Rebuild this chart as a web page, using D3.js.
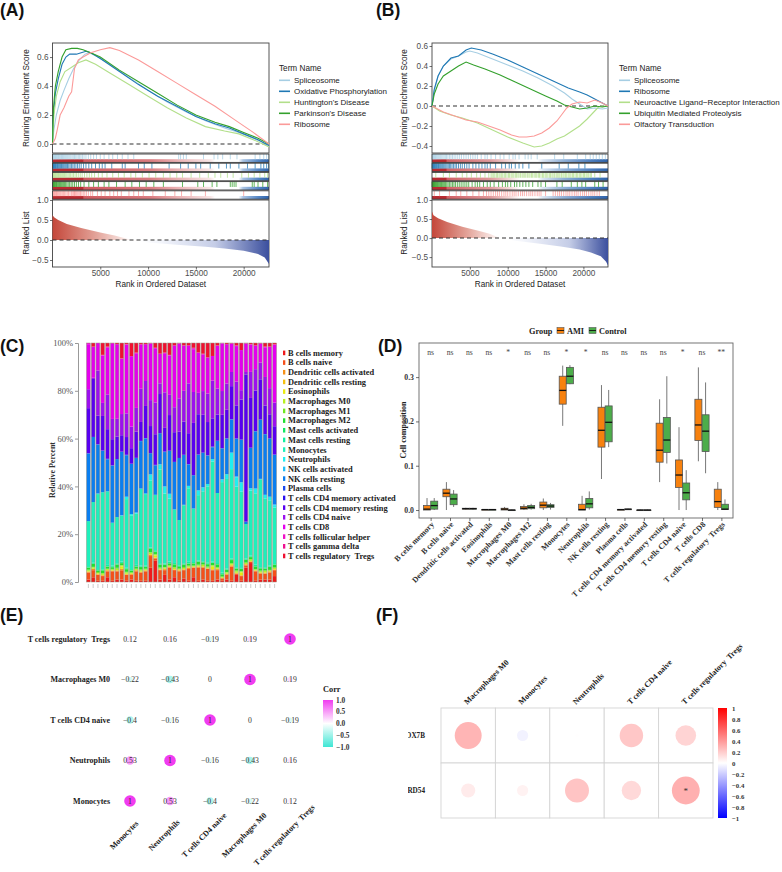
<!DOCTYPE html>
<html>
<head>
<meta charset="utf-8">
<script src="https://cdn.jsdelivr.net/npm/d3@7"></script>
<style>
  body { margin: 0; background: #fff; }
  svg text { white-space: pre; }
</style>
</head>
<body>
<svg id="fig" width="782" height="872"></svg>
<script>
// ---------- data: GSEA (A, B) ----------
var termsA = ['Spliceosome', 'Oxidative Phosphorylation', "Huntington's Disease", "Parkinson's Disease", 'Ribosome'];
var termsB = ['Spliceosome', 'Ribosome', 'Neuroactive Ligand\u2212Receptor Interaction', 'Ubiquitin Mediated Proteolysis', 'Olfactory Transduction'];
var colorsA = ['#a6cee3', '#1f78b4', '#b2df8a', '#33a02c', '#fb9a99'];
var colorsB = ['#a6cee3', '#1f78b4', '#b2df8a', '#33a02c', '#fb9a99'];

// running enrichment score, [rank, ES]
var esSpliceA = [[0,0],[150,0.1],[400,0.2],[800,0.3],[1200,0.37],[1700,0.45],[2200,0.52],[2800,0.58],[3400,0.62],[3800,0.63],[4500,0.61],[6000,0.55],[8000,0.46],[10000,0.37],[12000,0.29],[14000,0.22],[16000,0.16],[18000,0.11],[19500,0.08],[21000,0.04],[22000,0.01],[22650,-0.02]];
var esOxphosA = [[0,0],[100,0.2],[300,0.35],[600,0.45],[1000,0.55],[1400,0.6],[1800,0.62],[2500,0.62],[3000,0.63],[3500,0.64],[4000,0.63],[5000,0.59],[7000,0.5],[9000,0.41],[11000,0.33],[13000,0.26],[15000,0.19],[17000,0.14],[18500,0.11],[20000,0.07],[21500,0.03],[22650,-0.01]];
var esHuntA = [[0,0],[150,0.2],[400,0.33],[800,0.43],[1300,0.5],[2000,0.53],[2700,0.56],[3500,0.58],[4500,0.55],[6000,0.49],[8000,0.41],[10000,0.33],[12000,0.25],[14000,0.18],[16000,0.12],[18000,0.09],[19500,0.07],[21000,0.03],[22000,0.0],[22650,-0.02]];
var esParkA = [[0,0],[100,0.25],[300,0.4],[600,0.5],[1000,0.6],[1400,0.65],[2000,0.66],[2600,0.66],[3200,0.65],[4000,0.63],[5000,0.6],[7000,0.51],[9000,0.43],[11000,0.35],[13000,0.27],[15000,0.2],[17000,0.15],[18500,0.12],[20000,0.08],[21500,0.04],[22650,0.0]];
var esRiboA = [[0,0],[300,0.04],[500,0.1],[800,0.2],[1200,0.25],[1700,0.33],[2000,0.36],[2300,0.52],[2700,0.58],[3200,0.6],[4000,0.63],[5000,0.65],[6000,0.665],[7000,0.645],[9000,0.58],[11000,0.5],[13000,0.42],[15000,0.34],[17000,0.26],[19000,0.17],[21000,0.08],[22650,0.0]];

var esSpliceB = [[0,0],[300,0.15],[800,0.3],[1500,0.4],[2500,0.47],[3500,0.5],[4500,0.54],[5000,0.55],[6000,0.53],[8000,0.47],[10000,0.41],[12000,0.35],[14000,0.28],[16000,0.2],[17500,0.13],[18500,0.07],[19500,0.02],[20500,-0.03],[21500,-0.02],[22500,-0.03],[23250,-0.02]];
var esRiboB = [[0,0],[300,0.17],[800,0.3],[1500,0.4],[2500,0.48],[3500,0.5],[4500,0.56],[5200,0.58],[6500,0.56],[8000,0.52],[10000,0.46],[12000,0.39],[14000,0.32],[16000,0.25],[18000,0.18],[19500,0.14],[20500,0.11],[21500,0.07],[22500,0.03],[23250,0.0]];
var esNeuroB = [[0,0],[1000,-0.05],[2500,-0.09],[4000,-0.12],[6000,-0.17],[8000,-0.24],[10000,-0.31],[12000,-0.37],[13500,-0.41],[14500,-0.4],[15500,-0.37],[16500,-0.33],[17500,-0.3],[18500,-0.25],[19500,-0.2],[20500,-0.13],[21500,-0.05],[22000,-0.01],[22500,0.0],[23250,0.0]];
var esUbiqB = [[0,0],[300,0.12],[800,0.22],[1500,0.3],[2500,0.35],[3500,0.4],[4500,0.44],[5500,0.41],[7000,0.37],[9000,0.31],[11000,0.24],[13000,0.17],[15000,0.1],[16500,0.05],[17500,0.01],[18500,-0.01],[19500,-0.03],[20500,-0.02],[21500,0.0],[22500,-0.01],[23250,0.0]];
var esOlfB = [[0,0],[1500,-0.06],[3000,-0.1],[4500,-0.14],[6000,-0.16],[7500,-0.2],[9000,-0.24],[10500,-0.29],[11500,-0.31],[12500,-0.31],[13500,-0.3],[14500,-0.27],[15500,-0.22],[16500,-0.15],[17200,-0.08],[17800,-0.02],[18500,0.02],[19500,0.04],[20500,0.03],[21500,0.06],[22500,0.03],[23250,0.0]];

// gene-set hit ranks, in hundreds
var hitSpliceA = [0.3,0.8,1.3,1.9,2.6,3.2,4,4.7,5.5,6.2,7,7.8,8.7,9.5,10.4,11.3,12.2,13.1,14,15,16,17.1,18.2,19.3,20.5,21.7,23,24.3,25.6,27,28.4,29.8,31.3,33,35,37.5,40,43,46,50,54,59,63,68,73,79,85,132,134,137,140,158,169,173,178,186,193,212,217,221,224,226];
var hitOxphosA = [0.2,0.6,1,1.5,2,2.6,3.2,3.9,4.6,5.3,6,6.8,7.6,8.5,9.4,10.3,11.3,12.3,13.4,14.5,15.7,17,18.4,19.8,21.3,22.8,24.5,26.2,28,30,32.5,35,38,41,45,49,52,55,62,73,76,90,96,104,122,134,142,150,155,165,174,182,186,195,204,212,218,221,224,226];
var hitHuntA = [0.4,1,1.6,2.3,3,3.8,4.6,5.4,6.3,7.2,8.2,9.2,10.3,11.4,12.6,13.8,15,16.3,17.6,19,20.5,22,23.6,25.2,27,29,31,33.5,36,38.5,41,44,48,52,57,63,69,75,82,87,94,101,108,116,123,130,136,145,154,163,170,176,183,189,198,205,211,217,222,225];
var hitParkA = [0.2,0.5,0.9,1.3,1.8,2.3,2.9,3.5,4.2,4.9,5.7,6.5,7.4,8.3,9.3,10.3,11.4,12.5,13.7,15,16.4,17.9,19.5,21.2,23,25,27.2,29.5,33,38,43,48,54,59,67,76,83,91,98,106,116,136,152,158,167,172,186,188,190,192,209,211,215,220,225];
var hitRiboA = [0.6,1.2,1.9,2.6,3.4,4.2,5.1,6,7,8,9,10.2,11.4,12.7,14,15.4,16.8,18.3,19.8,21.2,22.2,23,23.8,24.7,25.7,26.8,28,29.3,30.7,32.2,33.8,35.5,37.5,40,42,47,51,55,60,64,68,72,80,85,90,95,105,118,128,135,145,160,200];

var hitSpliceB = [0.3,1,1.8,2.6,3.5,4.5,5.5,6.6,7.8,9,10.3,11.6,13,14.5,16,17.6,19.2,21,23,25,27,29.2,31.5,34,36.5,39,42,45,48,51,54,57,60,65,70,73,78,84,90,95,102,107,110,115,123,127,131,139,162,174,192,203,209,213,217,221,225,229];
var hitRiboB = [0.2,0.6,1.1,1.6,2.2,2.8,3.5,4.2,5,5.8,6.7,7.6,8.6,9.6,10.7,11.8,13,14.2,15.5,16.9,18.3,19.8,21.4,23,24.7,26.5,28.5,30.5,32.5,35,37.5,40,43,46,49,54,58,62,66,70,73,77,84,92,97,102,105,110,115,120,128,145,168,180,194,202];
var hitNeuroB = [5,15,23,32,40,46,52,59,64,70,75,78,79.5,81.5,83,85,86.5,88.5,90,92,93.5,95.5,97,99,101,102.5,104.5,106,108,110,111.5,113.5,115,117,119,120.5,122.5,124,126,128,129.5,131.5,133,135,137,138.5,140.5,142,144,146,147.5,149.5,151,153,155,156.5,158.5,160,162,164,165.5,167.5,169,171,173,174.5,176.5,178,180,182,183.5,185.5,187,189,191,192.5,194.5,196,198,200,201.5,203.5,205,207,209,210.5,215,222];
var hitUbiqB = [0.2,0.5,0.9,1.3,1.8,2.3,2.9,3.5,4.2,4.9,5.7,6.5,7.4,8.3,9.3,10.3,11.4,12.5,13.7,15,16.4,17.9,19.5,21.2,23,25,27,29,31,33.5,36,38.5,41,43.5,46,48.5,53,57,60,63,68,73,77,82,88,93,97,100,104,109,112,116,120,124,128,133,140,144,150,165,172,184,192,198,203,215,220,226];
var hitOlfB = [3,10,23,32,38,46,54,62,68,72,75,78,81,84,86.5,89,92,95,97.5,100,103,106,108.5,111,114,117,119.5,122,125,128,130.5,133,136,139,141.5,144,150,160,163,166,168.5,171,174,177,179.5,182,185,188,190.5,193,196,199,201.5,204,207,210,212.5,215,218,221];

// ranked list metric, [rank, value]
var rankedA = [[0,0.62],[200,0.56],[600,0.5],[1500,0.4],[3000,0.3],[5000,0.19],[6500,0.11],[7500,0.05],[8200,0.0],[10000,-0.06],[13000,-0.12],[16000,-0.17],[18000,-0.21],[20000,-0.27],[21500,-0.35],[22200,-0.44],[22650,-0.6]];
var rankedB = [[0,0.7],[200,0.6],[800,0.52],[2000,0.42],[4000,0.3],[6000,0.2],[7500,0.12],[8500,0.04],[9000,0.0],[11000,-0.07],[14000,-0.14],[17000,-0.22],[19500,-0.3],[21000,-0.38],[22300,-0.48],[23000,-0.62],[23250,-0.72]];

var rankTicks = [5000, 10000, 15000, 20000];

// ---------- data: immune cell fractions (C) ----------
var cellTypes = ['B cells memory','B cells naive','Dendritic cells activated','Dendritic cells resting','Eosinophils','Macrophages M0','Macrophages M1','Macrophages M2','Mast cells activated','Mast cells resting','Monocytes','Neutrophils','NK cells activated','NK cells resting','Plasma cells','T cells CD4 memory activated','T cells CD4 memory resting','T cells CD4 naive','T cells CD8','T cells follicular helper','T cells gamma delta','T cells regulatory  Tregs'];
var cellColors = ['#ee1a1a','#f4501a','#f59018','#f5c010','#eaea10','#b8f020','#70e820','#20e030','#10e860','#10f0a0','#1ef0bc','#20eef0','#20c0f8','#0a7ef0','#1848f0','#2a10f0','#5800f0','#9c10ee','#e400ee','#f010c8','#f01090','#f01030'];

var bMem     = [1,2,0.5,0.5,2,0.5,1,1,0.5,1, 0.5,0.5,0.5,6,9,1,3,1,2,0.5, 1.5,0.5,2,0.5,1,0.5,0.5,1,0.5,1, 0.5,3,0.5,6,8,0.5,1,1,1,2.5];
var bNaive   = [3,3,2.5,2,2.5,4,3.5,4,2.5,2, 4,3.5,4,5,1,4,2,5,3,4, 3.5,5,4,5.5,5,5,4.5,4,1,2, 6,0.5,2,1,0.5,4,2.5,2.5,3,2.5];
var dcAct    = [0.3,0.5,0.2,0.3,0.4,0.2,0.3,0.5,0.2,0.3, 0.4,0.2,0.3,0.5,0.3,0.2,0.4,0.3,0.2,0.3, 0.3,0.5,0.2,0.4,0.3,0.2,0.3,0.4,0.2,0.3, 0.5,0.2,0.3,0.4,0.2,0.3,0.3,0.2,0.4,0.3];
var dcRest   = [0.2,0.1,0.3,0.2,0.1,0.2,0.2,0.1,0.3,0.2, 0.1,0.2,0.2,0.3,0.1,0.2,0.2,0.1,0.2,0.3, 0.2,0.1,0.2,0.2,0.3,0.1,0.2,0.2,0.1,0.2, 0.3,0.2,0.1,0.2,0.2,0.1,0.2,0.3,0.2,0.1];
var eos      = [0,0,0,0,0,0,0,1,0,0, 0,0,0,0,0.8,0,0,0,0,0, 0,0,0,0,0,0,1,0,0,0, 0,0,1.2,0,0,0,0,0,0,0];
var m0       = [0.4,0.6,0.3,0.5,0.4,0.3,0.6,0.4,0.5,0.3, 0.4,0.5,0.3,0.6,0.4,0.3,0.5,0.4,0.6,0.3, 0.4,0.5,0.3,0.4,0.6,0.3,0.5,0.4,0.3,0.5, 0.4,0.6,0.3,0.4,0.5,0.3,0.4,0.6,0.3,0.5];
var m1       = [0.3,0.2,0.4,0.3,0.2,0.3,0.4,0.2,0.3,0.3, 0.2,0.4,0.3,0.2,0.3,0.4,0.2,0.3,0.3,0.2, 0.4,0.3,0.2,0.3,0.3,0.4,0.2,0.3,0.3,0.2, 0.3,0.4,0.2,0.3,0.3,0.2,0.4,0.3,0.2,0.3];
var m2       = [0.8,1.2,0.6,1,0.9,0.7,1.3,0.8,1.1,0.6, 0.9,1,0.7,1.4,0.8,1.2,0.9,0.7,1.1,0.8, 1,0.8,0.9,1.2,0.7,1,0.9,1.1,0.8,0.9, 1.3,0.7,0.9,1,0.8,1.1,0.9,0.7,1.2,1];
var mastAct  = [0.2,0.1,0.2,0.3,0.1,0.2,0.2,0.1,0.3,0.2, 0.1,0.2,0.2,0.3,0.2,0.1,0.2,0.2,0.1,0.3, 0.2,0.2,0.1,0.2,0.3,0.2,0.1,0.2,0.2,0.1, 0.3,0.2,0.2,0.1,0.2,0.2,0.3,0.1,0.2,0.2];
var mastRest = [0.5,0.6,0.4,0.3,0.6,0.5,0.4,0.6,0.3,0.5, 0.6,0.4,0.5,0.3,0.6,0.5,0.4,0.6,0.5,0.3, 0.4,0.6,0.5,0.4,0.3,0.6,0.5,0.4,0.6,0.5, 0.3,0.4,0.6,0.5,0.4,0.6,0.3,0.5,0.4,0.6];
var mono     = [19,25.5,31.5,32.5,31,18,19.5,19.5,29,22.5, 21.5,32.5,30,28.5,23.5,39.5,29.5,26.5,22.5,19, 24.5,31,22.5,27.5,29.5,32,42.5,29.5,38,37.5, 38,34,32,14.5,27.5,30,37,29,27.5,23.5];
var neut     = [0,0,0,0,0,0,0,0,1,0.5, 0.5,0,0,2.5,0,2,3,2,0,0, 0,1,0,2,1.5,1,1,0,1,2, 7,4,4,0,1,2,0,1.5,1.5,1];
var nkAct    = [0,0,0.3,0,0,0,0,0.2,0,0, 0,0,0.4,0,0,0.3,0,0,0,0, 0.2,0,0,0,0.3,0,0,0,0.2,0, 0,0.3,0,0,0,0,0.2,0,0,0.3];
var nkRest   = [28.5,27.5,20.5,17.5,13.5,24,24.5,27,17.5,21, 23,20,23,9,12.5,13,14.5,18,20,26, 21,9,14,15,14.5,12,5,22,13,15, 14,16,18,1,17,24,25,25.5,24.5,21];
var plasma   = [0.2,0,0.1,0,0.2,0.1,0,0,0.2,0.1, 0,0.1,0.2,0,0.1,0,0.2,0.1,0,0, 0.1,0.2,0,0.1,0,0.1,0.2,0,0.1,0, 0.2,0,0.1,0,0.1,0.2,0,0.1,0,0.1];
var cd4Act   = [0,0,0,0.2,0,0,0,0,0,0, 0,0,0,0,0.1,0,0,0,0,0, 0,0,0,0,0,0,0.1,0,0,0, 0,0,0,0,0,0,0,0,0.2,0];
var cd4Rest  = [19,24.5,12,14.5,12.5,11,9.5,7,7.5,6.5, 11,8,13.5,11.5,13,16.5,10,15,12.5,11, 14,13,22,17,16,14,12,11,14,12, 14,14,17,62,21,17,17,12,10,12];
var cd4Naive = [8,0.5,19,5.5,14.5,8.5,7.5,9,10,9, 10,14,10.5,11,13.5,4.5,15,8.5,10.5,14, 13,21,13,9,10,12,16,11,10,11, 6,10,4,1,11,9,7,12,11,10];
var cd8      = [19,13,11.5,20,20,31.5,31.5,23.5,29,29.5, 23,18.5,15.5,24,23,12.5,16.5,16.5,26,23, 19,16,18,17,15.5,15,10.5,18,20,16.5, 12,15,17,12,11.5,10,8,12.5,17.5,24.5];
var tfh      = [0.5,0,0,0.3,0,0.4,0,0,0.2,0, 0,0.3,0,0,0.2,0,0,0.3,0,0, 0.2,0,0.4,0,0,0.3,0,0,0.2,0, 0,0.3,0,0,0.2,0,0,0.3,0,0];
var tgd      = [0,0.2,0,0,0.3,0,0,0.2,0,0, 0.3,0,0,0.2,0,0,0.3,0,0,0.2, 0,0,0.2,0,0.3,0,0,0.2,0,0, 0.3,0,0,0.2,0,0,0.3,0,0,0.2];
var treg     = [0,1.5,0,5,1.5,0,0.5,6.5,0.5,5.5, 4,0.5,0.5,0,2,4.5,4,5,1,0, 1,1,2,4,4.5,6,5.5,1,0,0.5, 0,1,3,0,0.5,1,0,1.5,1.5,0.5];
var cellSeries = [bMem,bNaive,dcAct,dcRest,eos,m0,m1,m2,mastAct,mastRest,mono,neut,nkAct,nkRest,plasma,cd4Act,cd4Rest,cd4Naive,cd8,tfh,tgd,treg];
var percentTicks = [0, 0.2, 0.4, 0.6, 0.8, 1];

// ---------- data: box plots (D) ----------
var boxCells = ['B cells memory','B cells naive','Dendritic cells activated','Eosinophils','Macrophages M0','Macrophages M2','Mast cells resting','Monocytes','Neutrophils','NK cells resting','Plasma cells','T cells CD4 memory activated','T cells CD4 memory resting','T cells CD4 naive','T cells CD8','T cells regulatory  Tregs'];
var groups = ['AMI', 'Control'];
var groupColors = ['#f7810e', '#4cad4a'];
// [lower whisker, q1, median, q3, upper whisker]
var amiStats = [[0,0,0.002,0.01,0.027],[0,0.03,0.038,0.047,0.063],[0.001,0.002,0.003,0.004,0.005],[0,0,0.001,0.001,0.002],[0,0,0.002,0.004,0.007],[0,0.002,0.004,0.008,0.013],[0,0.005,0.011,0.018,0.026],[0.19,0.239,0.27,0.302,0.326],[0,0,0.001,0.013,0.032],[0.07,0.142,0.18,0.232,0.282],[0,0,0.001,0.001,0.002],[0,0,0,0,0.001],[0.063,0.108,0.135,0.196,0.25],[0,0.051,0.079,0.113,0.187],[0.11,0.157,0.192,0.25,0.322],[0,0.006,0.019,0.047,0.063]];
var controlStats = [[0,0.002,0.01,0.02,0.027],[0.007,0.012,0.025,0.036,0.045],[0.001,0.002,0.003,0.004,0.005],[0,0,0.001,0.001,0.001],[0,0,0,0,0.001],[0.001,0.003,0.006,0.01,0.014],[0.001,0.006,0.009,0.012,0.016],[0.284,0.285,0.302,0.322,0.327],[0.001,0.005,0.014,0.026,0.042],[0.142,0.154,0.198,0.235,0.271],[0.001,0.001,0.002,0.002,0.003],[0,0,0,0,0.001],[0.105,0.13,0.158,0.209,0.302],[0,0.023,0.039,0.061,0.09],[0.083,0.132,0.178,0.215,0.288],[0,0.001,0.002,0.013,0.024]];
var sigLabels = ['ns','ns','ns','ns','*','ns','ns','*','*','ns','ns','ns','ns','*','ns','**'];
var compTicks = [0, 0.1, 0.2, 0.3];

// ---------- data: correlation among cells (E) ----------
var corrCells = ['Monocytes','Neutrophils','T cells CD4 naive','Macrophages M0','T cells regulatory  Tregs'];
var corrMatrix = [
  [1, 0.53, -0.4, -0.22, 0.12],
  [0.53, 1, -0.16, -0.43, 0.16],
  [-0.4, -0.16, 1, 0, -0.19],
  [-0.22, -0.43, 0, 1, 0.19],
  [0.12, 0.16, -0.19, 0.19, 1]
];
var corrTicks = [1, 0.5, 0, -0.5, -1];

// ---------- data: gene vs cell correlation (F) ----------
var geneNames = ['COX7B', 'TRD54'];
var geneCells = ['Macrophages M0','Monocytes','Neutrophils','T cells CD4 naive','T cells regulatory  Tregs'];
var geneCorr = [
  [0.29, -0.05, 0.004, 0.22, 0.17],
  [0.08, 0.05, 0.23, 0.15, 0.31]
];
var geneStars = [['','','','',''], ['','','','','*']];
var geneTicks = [1, 0.8, 0.6, 0.4, 0.2, 0, -0.2, -0.4, -0.6, -0.8, -1];

// ---------- setup ----------
var SANS = 'Liberation Sans, Arial, sans-serif';
var SERIF = 'Liberation Serif, Times New Roman, serif';
var svg = d3.select('#fig');
var defs = svg.append('defs');
svg.append('rect').attr('width', 782).attr('height', 872).attr('fill', '#fff');

function addGradient(id, stops, x1, x2, y1, y2, userSpace) {
  var grad = defs.append('linearGradient').attr('id', id)
    .attr('x1', x1).attr('x2', x2).attr('y1', y1).attr('y2', y2);
  if (userSpace) grad.attr('gradientUnits', 'userSpaceOnUse');
  stops.forEach(function (s) {
    grad.append('stop').attr('offset', s[0]).attr('stop-color', s[1]);
  });
}

function styleAxis(sel, font, size, color, weight) {
  sel.select('.domain').remove();
  sel.selectAll('.tick line').attr('stroke', '#333').attr('stroke-width', 0.7);
  sel.selectAll('.tick text')
    .attr('font-family', font).attr('font-size', size)
    .attr('fill', color).attr('font-weight', weight || 'normal');
}

var minusFmt = function (v) { return (v < 0 ? '\u2212' : '') + Math.abs(v); };

// panel labels
[['(A)', 0, 16], ['(B)', 376, 16], ['(C)', 0, 352], ['(D)', 378, 352], ['(E)', 0, 621], ['(F)', 376, 621]]
  .forEach(function (p) {
    svg.append('text').attr('x', p[1]).attr('y', p[2]).text(p[0])
      .attr('font-family', SANS).attr('font-weight', 'bold').attr('font-size', 17.5).attr('fill', '#111');
  });

// ---------- GSEA panels ----------
function drawGsea(cfg) {
  var g = svg.append('g');
  var x = d3.scaleLinear().domain([0, cfg.maxRank]).range([cfg.left, cfg.right]);
  var yEs = d3.scaleLinear().domain(cfg.esDomain).range([153, 43]);
  var yRl = d3.scaleLinear().domain(cfg.rlDomain).range([267, 200]);
  var w = cfg.right - cfg.left;

  addGradient(cfg.id + 'rug', cfg.rugStops, cfg.left, cfg.right, 0, 0, true);
  addGradient(cfg.id + 'rl', cfg.rlStops, cfg.left, cfg.right, 0, 0, true);

  // running score
  g.append('rect').attr('x', cfg.left).attr('y', 43).attr('width', w).attr('height', 110)
    .attr('fill', '#fff').attr('stroke', '#444').attr('stroke-width', 0.9);
  g.append('line').attr('x1', cfg.left).attr('x2', cfg.right)
    .attr('y1', yEs(0)).attr('y2', yEs(0))
    .attr('stroke', '#333').attr('stroke-width', 1.1).attr('stroke-dasharray', '4,3');
  var line = d3.line().x(function (d) { return x(d[0]); }).y(function (d) { return yEs(d[1]); });
  cfg.curves.forEach(function (c, i) {
    g.append('path').datum(c).attr('d', line).attr('fill', 'none')
      .attr('stroke', cfg.colors[i]).attr('stroke-width', 1.1);
  });
  var ay = g.append('g').attr('transform', 'translate(' + cfg.left + ',0)')
    .call(d3.axisLeft(yEs).tickValues(cfg.esTicks).tickFormat(d3.format('.1f')).tickSize(2.5).tickPadding(1.5));
  styleAxis(ay, SANS, 8.2, '#4d4d4d');

  // hit strips
  cfg.hits.forEach(function (h, i) {
    var y0 = 154 + i * 9.2, hh = 8.4;
    g.append('rect').attr('x', cfg.left).attr('y', y0).attr('width', w).attr('height', hh).attr('fill', '#fff');
    g.append('rect').attr('x', cfg.left).attr('y', y0 + hh * 0.62).attr('width', w).attr('height', hh * 0.38)
      .attr('fill', 'url(#' + cfg.id + 'rug)');
    g.selectAll(null).data(h).enter().append('line')
      .attr('x1', function (d) { return x(d * 100); }).attr('x2', function (d) { return x(d * 100); })
      .attr('y1', y0).attr('y2', y0 + hh * 0.64)
      .attr('stroke', cfg.colors[i]).attr('stroke-width', 0.9).attr('stroke-opacity', 0.85);
    g.append('rect').attr('x', cfg.left).attr('y', y0).attr('width', w).attr('height', hh)
      .attr('fill', 'none').attr('stroke', '#3a3a3a').attr('stroke-width', 0.9);
  });

  // ranked list
  g.append('rect').attr('x', cfg.left).attr('y', 200).attr('width', w).attr('height', 67)
    .attr('fill', '#fff').attr('stroke', '#444').attr('stroke-width', 0.9);
  var area = d3.area().x(function (d) { return x(d[0]); })
    .y0(yRl(0)).y1(function (d) { return yRl(d[1]); });
  g.append('path').datum(cfg.ranked).attr('d', area).attr('fill', 'url(#' + cfg.id + 'rl)');
  g.append('line').attr('x1', cfg.left).attr('x2', cfg.right)
    .attr('y1', yRl(0)).attr('y2', yRl(0))
    .attr('stroke', '#333').attr('stroke-width', 1.1).attr('stroke-dasharray', '4,3');
  var ay2 = g.append('g').attr('transform', 'translate(' + cfg.left + ',0)')
    .call(d3.axisLeft(yRl).tickValues([-0.5, 0, 0.5, 1]).tickFormat(d3.format('.1f')).tickSize(2.5).tickPadding(1.5));
  styleAxis(ay2, SANS, 8.2, '#4d4d4d');
  var ax = g.append('g').attr('transform', 'translate(0,267)')
    .call(d3.axisBottom(x).tickValues(rankTicks).tickFormat(d3.format('d')).tickSize(2.5).tickPadding(1));
  styleAxis(ax, SANS, 8.2, '#4d4d4d');

  // titles
  g.append('text').attr('x', (cfg.left + cfg.right) / 2).attr('y', 287).attr('text-anchor', 'middle')
    .attr('font-family', SANS).attr('font-size', 8.2).attr('fill', '#222').text('Rank in Ordered Dataset');
  g.append('text').attr('transform', 'translate(' + cfg.titleX + ',98) rotate(-90)').attr('text-anchor', 'middle')
    .attr('font-family', SANS).attr('font-size', 8.2).attr('fill', '#222').text('Running Enrichment Score');
  g.append('text').attr('transform', 'translate(' + cfg.titleX + ',233) rotate(-90)').attr('text-anchor', 'middle')
    .attr('font-family', SANS).attr('font-size', 8.2).attr('fill', '#222').text('Ranked List');

  // legend
  g.append('text').attr('x', cfg.legendX).attr('y', 71).text('Term Name')
    .attr('font-family', SANS).attr('font-size', 8.2).attr('fill', '#222');
  cfg.names.forEach(function (n, i) {
    var yy = 80.3 + i * 11;
    g.append('line').attr('x1', cfg.legendX).attr('x2', cfg.legendX + 11).attr('y1', yy).attr('y2', yy)
      .attr('stroke', cfg.colors[i]).attr('stroke-width', 1.6);
    g.append('text').attr('x', cfg.legendX + 15).attr('y', yy + 2.8).text(n)
      .attr('font-family', SANS).attr('font-size', 8).attr('fill', '#222');
  });
}

drawGsea({
  id: 'ga', left: 52.5, right: 269, maxRank: 22650,
  esDomain: [-0.062, 0.697], esTicks: [0, 0.2, 0.4, 0.6], rlDomain: [-0.675, 1.0],
  curves: [esSpliceA, esOxphosA, esHuntA, esParkA, esRiboA],
  hits: [hitSpliceA, hitOxphosA, hitHuntA, hitParkA, hitRiboA],
  ranked: rankedA, colors: colorsA, names: termsA, legendX: 279, titleX: 29,
  rugStops: [[0, '#b82a30'], [0.14, '#b82a30'], [0.145, '#cf5a5f'], [0.45, '#d97c80'], [0.58, '#eab2b4'], [0.73, '#f8e6e6'], [0.75, '#ffffff'], [0.86, '#ffffff'], [0.88, '#a9c3e3'], [0.95, '#5486c4'], [1, '#2f63aa']],
  rlStops: [[0, '#c4473a'], [0.2, '#e3a399'], [0.36, '#fdf4f2'], [0.4, '#ffffff'], [0.5, '#f3f5fb'], [0.75, '#c5cde7'], [1, '#3b4f9e']]
});

drawGsea({
  id: 'gb', left: 432, right: 608, maxRank: 23250,
  esDomain: [-0.47, 0.63], esTicks: [-0.4, -0.2, 0, 0.2, 0.4, 0.6], rlDomain: [-0.76, 1.0],
  curves: [esSpliceB, esRiboB, esNeuroB, esUbiqB, esOlfB],
  hits: [hitSpliceB, hitRiboB, hitNeuroB, hitUbiqB, hitOlfB],
  ranked: rankedB, colors: colorsB, names: termsB, legendX: 619, titleX: 407,
  rugStops: [[0, '#b82a30'], [0.08, '#b82a30'], [0.085, '#d06064'], [0.33, '#e09a9c'], [0.45, '#f6dede'], [0.5, '#ffffff'], [0.6, '#ffffff'], [0.63, '#dbe5f2'], [0.75, '#8fb0d8'], [0.9, '#4f80c0'], [1, '#2f63aa']],
  rlStops: [[0, '#c4473a'], [0.2, '#e3a399'], [0.37, '#fdf4f2'], [0.42, '#ffffff'], [0.52, '#f3f5fb'], [0.78, '#c5cde7'], [1, '#3b4f9e']]
});

// ---------- panel C: stacked bars ----------
(function drawStacked() {
  var g = svg.append('g');
  var rows = bMem.map(function (d, i) {
    var r = { id: i };
    cellTypes.forEach(function (t, k) { r[t] = cellSeries[k][i]; });
    return r;
  });
  var stack = d3.stack().keys(cellTypes).offset(d3.stackOffsetExpand)(rows);
  var x = d3.scaleBand().domain(rows.map(function (r) { return r.id; })).range([86, 277]).paddingInner(0.2).paddingOuter(0.1);
  var y = d3.scaleLinear().domain([0, 1]).range([582, 343]);

  stack.forEach(function (layer, k) {
    g.selectAll(null).data(layer).enter().append('rect')
      .attr('x', function (d) { return x(d.data.id); })
      .attr('width', x.bandwidth())
      .attr('y', function (d) { return y(d[1]); })
      .attr('height', function (d) { return Math.max(0, y(d[0]) - y(d[1])); })
      .attr('fill', cellColors[k]);
  });
  g.selectAll(null).data(rows).enter().append('rect')
    .attr('x', function (d) { return x(d.id); }).attr('width', x.bandwidth())
    .attr('y', y(1)).attr('height', y(0) - y(1))
    .attr('fill', 'none').attr('stroke', '#9a9484').attr('stroke-width', 0.5);

  var ay = g.append('g').attr('transform', 'translate(78,0)')
    .call(d3.axisLeft(y).tickValues(percentTicks).tickFormat(d3.format('.0%')).tickSize(3).tickPadding(2));
  ay.select('.domain').attr('stroke', '#999');
  ay.selectAll('.tick line').attr('stroke', '#999');
  ay.selectAll('.tick text').attr('font-family', SERIF).attr('font-size', 8.5).attr('fill', '#555');
  var ax = g.append('g').attr('transform', 'translate(0,584)')
    .call(d3.axisBottom(x).tickSize(4).tickFormat(''));
  ax.select('.domain').remove();
  ax.selectAll('.tick line').attr('stroke', '#aaa').attr('stroke-width', 0.6);

  g.append('text').attr('transform', 'translate(55,470) rotate(-90)').attr('text-anchor', 'middle')
    .attr('font-family', SERIF).attr('font-weight', 'bold').attr('font-size', 8).attr('fill', '#333')
    .text('Relative Percent');

  cellTypes.forEach(function (t, k) {
    var yy = 353 + k * 9.67;
    g.append('rect').attr('x', 283).attr('y', yy - 2.4).attr('width', 2.3).attr('height', 4.6).attr('fill', cellColors[k]);
    g.append('text').attr('x', 288).attr('y', yy + 2.8).text(t)
      .attr('font-family', SERIF).attr('font-weight', 'bold').attr('font-size', 8.4).attr('fill', '#222');
  });
})();

// ---------- panel D: box plots ----------
(function drawBoxes() {
  var g = svg.append('g');
  var x = d3.scalePoint().domain(boxCells).range([419, 733]).padding(0.6);
  var y = d3.scaleLinear().domain([-0.018, 0.377]).range([518, 343]);
  var offs = [-3.6, 3.6], bw = 7;

  g.append('rect').attr('x', 419).attr('y', 343).attr('width', 314).attr('height', 175)
    .attr('fill', '#fff').attr('stroke', '#666').attr('stroke-width', 0.9);

  [amiStats, controlStats].forEach(function (stats, gi) {
    var grp = g.append('g');
    var sel = grp.selectAll('g').data(stats).enter().append('g')
      .attr('transform', function (d, i) { return 'translate(' + (x(boxCells[i]) + offs[gi]) + ',0)'; });
    sel.append('line').attr('x1', 0).attr('x2', 0)
      .attr('y1', function (d) { return y(d[0]); }).attr('y2', function (d) { return y(d[4]); })
      .attr('stroke', '#555').attr('stroke-width', 0.8);
    sel.append('rect').attr('x', -bw / 2).attr('width', bw)
      .attr('y', function (d) { return y(d[3]); })
      .attr('height', function (d) { return Math.max(0.6, y(d[1]) - y(d[3])); })
      .attr('fill', groupColors[gi]).attr('stroke', '#555').attr('stroke-width', 0.8);
    sel.append('line').attr('x1', -bw / 2).attr('x2', bw / 2)
      .attr('y1', function (d) { return y(d[2]); }).attr('y2', function (d) { return y(d[2]); })
      .attr('stroke', '#111').attr('stroke-width', 1.3);
  });

  g.selectAll(null).data(sigLabels).enter().append('text')
    .attr('x', function (d, i) { return x(boxCells[i]); }).attr('y', 355)
    .attr('text-anchor', 'middle').text(function (d) { return d; })
    .attr('font-family', SERIF).attr('font-size', 7.6).attr('fill', '#444');

  var ay = g.append('g').attr('transform', 'translate(419,0)')
    .call(d3.axisLeft(y).tickValues(compTicks).tickFormat(d3.format('.1f')).tickSize(3).tickPadding(2));
  styleAxis(ay, SERIF, 7.8, '#333', 'bold');
  var ax = g.append('g').attr('transform', 'translate(0,518)')
    .call(d3.axisBottom(x).tickSize(3).tickFormat(''));
  ax.select('.domain').remove();
  ax.selectAll('.tick line').attr('stroke', '#333').attr('stroke-width', 0.7);

  boxCells.forEach(function (c) {
    g.append('text').attr('transform', 'translate(' + (x(c) + 4) + ',525) rotate(-45)')
      .attr('text-anchor', 'end').text(c)
      .attr('font-family', SERIF).attr('font-weight', 'bold').attr('font-size', 8).attr('fill', '#333');
  });
  g.append('text').attr('transform', 'translate(406,430) rotate(-90)').attr('text-anchor', 'middle')
    .attr('font-family', SERIF).attr('font-weight', 'bold').attr('font-size', 8).attr('fill', '#222')
    .text('Cell composition');

  // legend
  g.append('text').attr('x', 529).attr('y', 334).text('Group')
    .attr('font-family', SERIF).attr('font-weight', 'bold').attr('font-size', 8.3).attr('fill', '#222');
  var keyX = [557, 589];
  groups.forEach(function (n, i) {
    g.append('rect').attr('x', keyX[i]).attr('y', 327.5).attr('width', 7).attr('height', 6)
      .attr('fill', groupColors[i]).attr('stroke', '#555').attr('stroke-width', 0.6);
    g.append('line').attr('x1', keyX[i]).attr('x2', keyX[i] + 7).attr('y1', 330.5).attr('y2', 330.5)
      .attr('stroke', '#111').attr('stroke-width', 0.9);
    g.append('text').attr('x', keyX[i] + 10).attr('y', 334).text(n)
      .attr('font-family', SERIF).attr('font-weight', 'bold').attr('font-size', 8.3).attr('fill', '#222');
  });
})();

// ---------- panel E: correlation matrix ----------
(function drawCorr() {
  var g = svg.append('g');
  var x = d3.scalePoint().domain(corrCells).range([130, 290]);
  var y = d3.scalePoint().domain(corrCells).range([801, 639]);
  var color = d3.scaleLinear().domain([-1, 0, 1]).range(['#3ee6d4', '#ffffff', '#f03cf0']);
  var cells = [];
  corrMatrix.forEach(function (row, i) {
    row.forEach(function (v, j) { cells.push({ r: corrCells[i], c: corrCells[j], v: v }); });
  });
  g.selectAll(null).data(cells).enter().append('circle')
    .attr('cx', function (d) { return x(d.c); }).attr('cy', function (d) { return y(d.r); })
    .attr('r', function (d) { return 5.8 * Math.sqrt(Math.abs(d.v)); })
    .attr('fill', function (d) { return color(d.v); });
  g.selectAll(null).data(cells).enter().append('text')
    .attr('x', function (d) { return x(d.c); }).attr('y', function (d) { return y(d.r) + 2.6; })
    .attr('text-anchor', 'middle').text(function (d) { return minusFmt(d.v); })
    .attr('font-family', SERIF).attr('font-size', 7.7).attr('fill', '#333');

  corrCells.forEach(function (c) {
    g.append('text').attr('x', 110).attr('y', y(c) + 2.8).attr('text-anchor', 'end').text(c)
      .attr('font-family', SERIF).attr('font-weight', 'bold').attr('font-size', 8).attr('fill', '#222');
    g.append('text').attr('transform', 'translate(' + (x(c) - 4) + ',837) rotate(-45)')
      .attr('text-anchor', 'middle').text(c)
      .attr('font-family', SERIF).attr('font-weight', 'bold').attr('font-size', 8).attr('fill', '#222');
  });

  // legend
  addGradient('corrE', [[0, '#f03cf0'], [0.5, '#ffffff'], [1, '#3ee6d4']], 0, 0, 0, 1, false);
  var yl = d3.scaleLinear().domain([1, -1]).range([700, 747]);
  g.append('text').attr('x', 323).attr('y', 692).text('Corr')
    .attr('font-family', SERIF).attr('font-weight', 'bold').attr('font-size', 8.3).attr('fill', '#222');
  g.append('rect').attr('x', 323).attr('y', 700).attr('width', 10).attr('height', 47).attr('fill', 'url(#corrE)');
  corrTicks.forEach(function (t) {
    g.append('text').attr('x', 336).attr('y', yl(t) + 2.6).text(d3.format('.1f')(t))
      .attr('font-family', SERIF).attr('font-weight', 'bold').attr('font-size', 7.4).attr('fill', '#333');
  });
})();

// ---------- panel F: gene vs cell correlation ----------
(function drawGeneCorr() {
  var g = svg.append('g');
  var x = d3.scaleBand().domain(geneCells).range([441, 713]);
  var y = d3.scaleBand().domain(geneNames).range([708, 818]);
  var color = d3.scaleLinear().domain([-1, 0, 1]).range(['#0000ff', '#ffffff', '#ff0000']);

  geneNames.forEach(function (gn, i) {
    geneCells.forEach(function (c, j) {
      var v = geneCorr[i][j];
      g.append('rect').attr('x', x(c)).attr('y', y(gn)).attr('width', x.bandwidth()).attr('height', y.bandwidth())
        .attr('fill', '#fff').attr('stroke', '#d4d4d4').attr('stroke-width', 0.9);
      g.append('circle').attr('cx', x(c) + x.bandwidth() / 2).attr('cy', y(gn) + y.bandwidth() / 2)
        .attr('r', 25 * Math.sqrt(Math.abs(v))).attr('fill', color(v));
      if (geneStars[i][j]) {
        g.append('text').attr('x', x(c) + x.bandwidth() / 2).attr('y', y(gn) + y.bandwidth() / 2 + 3.5)
          .attr('text-anchor', 'middle').text(geneStars[i][j])
          .attr('font-family', SERIF).attr('font-size', 9).attr('fill', '#333');
      }
    });
  });

  defs.append('clipPath').attr('id', 'fclip').append('rect').attr('x', 408).attr('y', 700).attr('width', 40).attr('height', 120);
  geneNames.forEach(function (gn) {
    g.append('text').attr('x', 425).attr('y', y(gn) + y.bandwidth() / 2 + 2.6).attr('text-anchor', 'end').text(gn)
      .attr('clip-path', 'url(#fclip)')
      .attr('font-family', SERIF).attr('font-weight', 'bold').attr('font-size', 7.2).attr('fill', '#222');
  });
  geneCells.forEach(function (c) {
    g.append('text').attr('transform', 'translate(' + (x(c) + x.bandwidth() / 2 - 1) + ',705) rotate(-45)')
      .text(c)
      .attr('font-family', SERIF).attr('font-weight', 'bold').attr('font-size', 8).attr('fill', '#222');
  });

  addGradient('corrF', [[0, '#ff0000'], [0.5, '#ffffff'], [1, '#0000ff']], 0, 0, 0, 1, false);
  var yl = d3.scaleLinear().domain([1, -1]).range([708, 818]);
  g.append('rect').attr('x', 718).attr('y', 708).attr('width', 9).attr('height', 110).attr('fill', 'url(#corrF)');
  geneTicks.forEach(function (t) {
    g.append('text').attr('x', 732).attr('y', yl(t) + 2.5).text(minusFmt(t))
      .attr('font-family', SERIF).attr('font-weight', 'bold').attr('font-size', 6.8).attr('fill', '#333');
  });
})();
</script>
</body>
</html>
